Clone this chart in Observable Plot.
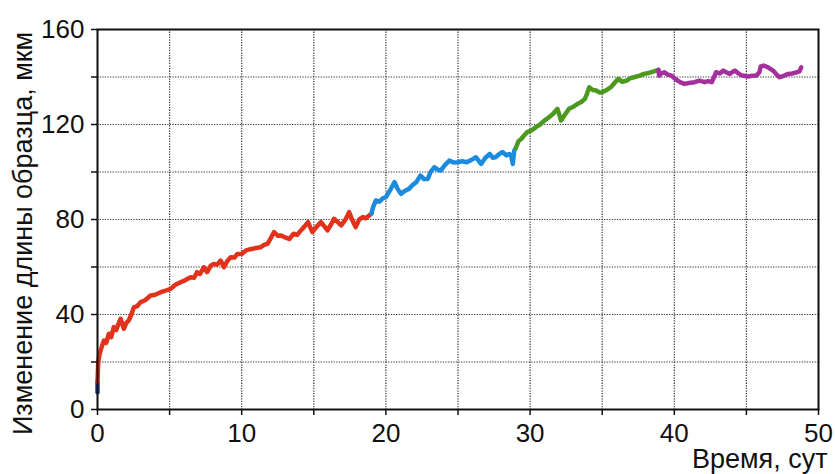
<!DOCTYPE html>
<html><head><meta charset="utf-8">
<script src="https://cdn.jsdelivr.net/npm/d3@7"></script>
<script src="https://cdn.jsdelivr.net/npm/@observablehq/plot@0.6"></script>
<style>body{margin:0;background:#fff}</style>
</head><body><div id="chart"></div>
<script>
const yLabel = "Изменение длины образца, мкм";
const xLabel = "Время, сут";
const xTicks = [0,5,10,15,20,25,30,35,40,45,50];
const yTicks = [0,20,40,60,80,100,120,140,160];
const seriesNames = ["start","s1","s2","s3","s4"];
const seriesColors = ["#1f3f8f","#e2321c","#1b8be0","#4b9a1f","#a3309c"];

const startPts = [[0,7.3],[0,11.5]];
const s1 = [[0,11.5],[0.05,20],[0.15,23.5],[0.3,26.5],[0.44,29],[0.6,28],[0.79,31.9],[0.95,30.5],[1.13,34.7],[1.3,33.5],[1.45,36],[1.6,38.2],[1.83,34],[2.0,36.5],[2.17,37.5],[2.35,40],[2.52,43],[2.75,43.5],[2.99,45.2],[3.3,46],[3.68,48],[4.0,48.3],[4.38,49.4],[4.7,50],[5.07,50.8],[5.4,52.5],[5.76,53.6],[6.1,54.5],[6.46,55.7],[6.7,55.5],[6.9,57.8],[7.1,57],[7.38,59.9],[7.6,57.8],[7.85,60.5],[8.08,61.3],[8.3,61],[8.54,62.7],[8.77,59.9],[9.0,62.5],[9.24,64.1],[9.5,64],[9.7,65.5],[10.0,65.5],[10.3,67],[10.6,67.5],[11.0,68],[11.3,68.3],[11.55,69.3],[11.8,69.8],[12.0,72],[12.24,74.7],[12.5,73.2],[12.7,73.3],[13.0,72.5],[13.3,71.8],[13.6,74],[13.85,73.5],[14.1,75.4],[14.35,77],[14.6,78.9],[14.9,74.7],[15.2,77],[15.5,78.9],[15.75,77],[15.95,75.4],[16.2,78],[16.4,80.3],[16.65,79],[16.9,77.5],[17.2,80],[17.45,83.1],[17.65,80],[17.9,76.8],[18.15,80],[18.4,81],[18.6,80.5],[18.84,81.7],[19.0,82.5]];
const s2 = [[19.0,82.5],[19.1,85],[19.3,88],[19.55,87.5],[19.8,89],[20.0,89.4],[20.3,92.5],[20.6,95.7],[20.8,93],[21.04,90.8],[21.3,92],[21.6,92.9],[21.85,94.5],[22.1,95.7],[22.4,98.5],[22.65,97],[22.9,97.1],[23.1,100],[23.35,102],[23.6,101],[23.8,100.6],[24.1,103],[24.4,104.8],[24.7,104],[24.98,104.1],[25.3,104.5],[25.6,104.1],[25.9,105],[26.25,106.2],[26.6,103.4],[26.9,106],[27.2,107.6],[27.4,106],[27.6,106.2],[27.85,107.5],[28.1,108.4],[28.35,107],[28.56,107.6],[28.7,106.5],[28.8,103.4],[28.9,109],[29.0,110]];
const s3 = [[29.0,110],[29.2,113],[29.4,114],[29.6,115.5],[29.8,116.8],[30.1,117.5],[30.4,118.9],[30.7,120],[31.0,121.7],[31.3,123],[31.6,124.5],[31.9,126.6],[32.15,121.7],[32.4,124],[32.7,126.6],[33.0,127.5],[33.3,128.7],[33.55,129.5],[33.8,130.8],[33.95,133],[34.1,135.7],[34.35,134.5],[34.6,134.3],[34.8,133.5],[35.0,133.6],[35.3,134.5],[35.6,135.7],[35.85,137.5],[36.1,139.2],[36.4,138],[36.7,138.5],[36.95,139.5],[37.2,139.9],[37.55,140.5],[37.9,141.3],[38.3,141.8],[38.75,142.7],[38.9,143]];
const s4 = [[38.9,143],[38.95,140.5],[39.1,141.5],[39.3,142],[39.55,141],[39.8,140.6],[40.1,139],[40.4,137.8],[40.7,137.1],[41.0,137.5],[41.4,137.8],[41.75,138.5],[42.1,137.8],[42.35,138.3],[42.6,137.8],[42.9,142],[43.15,141.5],[43.4,142.7],[43.6,142],[43.85,141.3],[44.0,142],[44.2,142.7],[44.45,141.5],[44.7,140.6],[45.1,140.2],[45.4,140.5],[45.7,140.6],[45.9,142],[46.0,144.5],[46.2,144.8],[46.5,144.1],[46.85,142.7],[47.1,141],[47.3,139.9],[47.6,140.5],[47.9,141.3],[48.2,141.5],[48.5,142],[48.7,142.5],[48.8,144.1]];

const groups = [startPts, s1, s2, s3, s4];
const table = groups.flatMap((g, i) => g.map(([t, v]) => ({t, v, series: seriesNames[i]})));

const gridStyle = {stroke: "#3a3a3a", strokeOpacity: 1, strokeWidth: 1.2, strokeDasharray: "1.3,1.3"};
const font = "'Liberation Sans', Arial, sans-serif";

const chart = Plot.plot({
  width: 835, height: 474,
  marginLeft: 97, marginRight: 17, marginTop: 29, marginBottom: 65,
  x: {domain: [0, 50]},
  y: {domain: [0, 160]},
  color: {domain: seriesNames, range: seriesColors},
  style: {fontFamily: font, fontSize: "26px", color: "#111", background: "#fff"},
  marks: [
    Plot.gridX(xTicks, gridStyle),
    Plot.gridY(yTicks, gridStyle),
    Plot.line(table, {x: "t", y: "v", z: "series", stroke: "series", strokeWidth: 4.5, strokeLinejoin: "round", strokeLinecap: "round"}),
    Plot.frame({stroke: "#111", strokeWidth: 2}),
    Plot.axisX(xTicks, {tickSize: 6, tickPadding: 8, strokeWidth: 1.5, tickFormat: d => d % 10 === 0 ? String(d) : "", label: null, fontSize: 26}),
    Plot.axisY(yTicks, {tickSize: 6, tickPadding: 7, strokeWidth: 1.5, tickFormat: d => d % 40 === 0 ? String(d) : "", label: null, fontSize: 26}),
    Plot.text([yLabel], {text: d => d, frameAnchor: "left", textAnchor: "middle", dx: -74, dy: 14, rotate: -90, fontSize: 27, fill: "#111"}),
    Plot.text([xLabel], {text: d => d, frameAnchor: "bottom-right", dx: 9, dy: 58, textAnchor: "end", fontSize: 27, fill: "#111"})
  ]
});
document.getElementById("chart").appendChild(chart);
</script>
</body></html>
